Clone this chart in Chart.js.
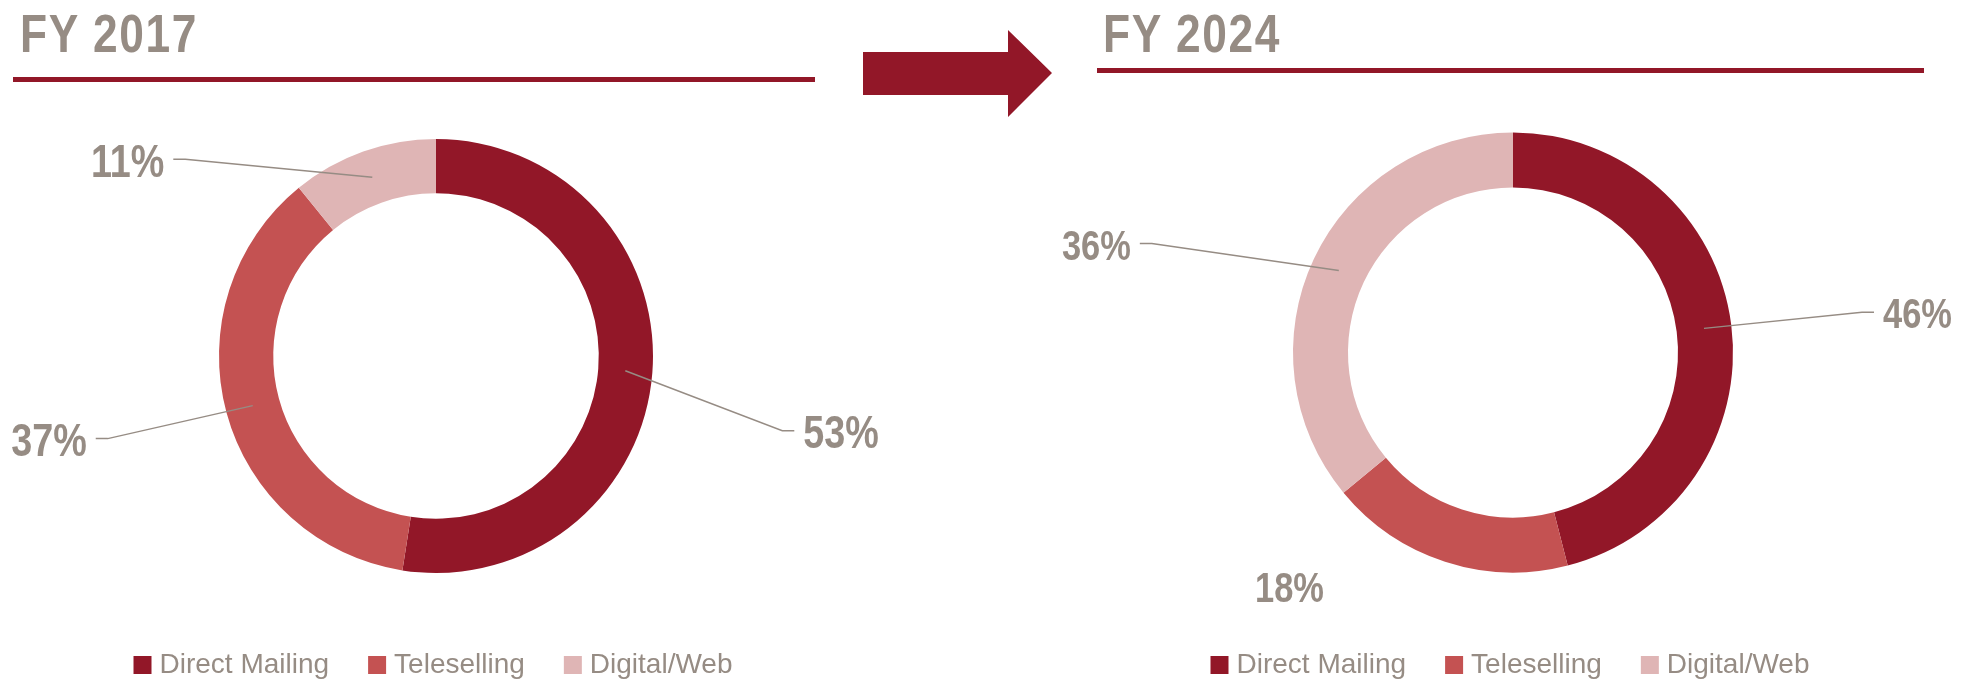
<!DOCTYPE html>
<html>
<head>
<meta charset="utf-8">
<script src="https://cdn.jsdelivr.net/npm/chart.js@4.4.1/dist/chart.umd.min.js"></script>
<style>
  html, body { margin: 0; padding: 0; background: #fff; width: 1968px; height: 686px; overflow: hidden; }
  body { position: relative; font-family: 'Liberation Sans', Arial, sans-serif; }
  /* no narrow face installed, so squeeze the bold sans horizontally */
  .title { position: absolute; font-weight: bold; font-size: 54px; line-height: 54px; color: #968C84; letter-spacing: 2px;
    white-space: nowrap; transform: scaleX(0.82); transform-origin: 0 0; }
  .rule { position: absolute; height: 5px; background: #921728; }
  .arrow { position: absolute; left: 863px; top: 30px; width: 189px; height: 87px; background: #921728;
    clip-path: polygon(0 22px, 145px 22px, 145px 0, 189px 43px, 145px 87px, 145px 65px, 0 65px); }
  canvas { position: absolute; top: 0; }
</style>
</head>
<body>
<div class="title" style="left:20px; top:6px;">FY 2017</div>
<div class="rule" style="left:13px; top:77px; width:802px;"></div>
<div class="arrow"></div>
<div class="title" style="left:1103px; top:6px;">FY 2024</div>
<div class="rule" style="left:1097px; top:68px; width:827px;"></div>

<canvas id="chart2017" width="900" height="700" style="left:-14px;"></canvas>
<canvas id="chart2024" width="906" height="700" style="left:1060px;"></canvas>

<script>
const categories = ['Direct Mailing', 'Teleselling', 'Digital/Web'];
const share2017 = [53, 37, 11];
const share2024 = [46, 18, 36];

const sliceColors = ['#921728', '#C45252', '#DFB5B5'];
const textGray = '#968C84';
const sans = "'Liberation Sans', Arial, sans-serif";

// where each % label sits, as offset from the middle of its slice (like the hand-placed excel labels)
const labelPos2017 = [[157, 60], [-145, 33], [-187, -18]];
const leaders2017 = [true, true, true];
const labelPos2024 = [[158, -16], [-164, 50], [-187, -27]];
const leaders2024 = [true, false, true];

// draws the % labels with their leader lines
const callouts = {
  id: 'callouts',
  afterDatasetsDraw(chart, args, opts) {
    const ctx = chart.ctx;
    const meta = chart.getDatasetMeta(0);
    const values = chart.data.datasets[0].data;
    const drop = opts.size * 0.358 + 1; // baseline below the leader tick
    ctx.save();
    ctx.font = 'bold ' + opts.size + 'px ' + sans;
    ctx.fillStyle = textGray;
    ctx.strokeStyle = textGray;
    ctx.lineWidth = 1.5;
    ctx.textBaseline = 'alphabetic';
    meta.data.forEach((arc, i) => {
      const p = arc.getProps(['x', 'y', 'startAngle', 'endAngle', 'innerRadius', 'outerRadius'], true);
      const mid = (p.startAngle + p.endAngle) / 2;
      const r = (p.innerRadius + p.outerRadius) / 2;
      const px = p.x + Math.cos(mid) * r;
      const py = p.y + Math.sin(mid) * r;
      const ex = px + opts.pos[i][0];
      const ey = py + opts.pos[i][1];
      const text = values[i] + '%';
      let tx = ex;
      if (opts.leaders[i]) {
        const dir = opts.pos[i][0] > 0 ? 1 : -1;
        ctx.beginPath();
        ctx.moveTo(px, py);
        ctx.lineTo(ex, ey);
        ctx.lineTo(ex + dir * 12, ey);
        ctx.stroke();
        ctx.textAlign = dir > 0 ? 'left' : 'right';
        tx = ex + dir * 21;
      } else {
        ctx.textAlign = 'center';
      }
      ctx.save();
      ctx.translate(tx, ey + drop);
      ctx.scale(0.82, 1);
      ctx.fillText(text, 0, 0);
      ctx.restore();
    });
    ctx.restore();
  }
};

function donut(id, values, radius, topPad, pos, leaders, labelSize) {
  return new Chart(document.getElementById(id), {
    type: 'doughnut',
    data: {
      labels: categories,
      datasets: [{
        data: values,
        backgroundColor: sliceColors,
        borderWidth: 0,
        radius: radius,
        cutout: '75%'
      }]
    },
    options: {
      responsive: false,
      animation: false,
      layout: { padding: { top: topPad, bottom: 11 } },
      plugins: {
        legend: {
          position: 'bottom',
          labels: {
            usePointStyle: true,
            pointStyle: 'rect',
            boxWidth: 6,
            boxHeight: 18,
            padding: 45,
            color: textGray,
            font: { family: sans, size: 28 }
          }
        },
        tooltip: { enabled: false },
        callouts: { pos: pos, leaders: leaders, size: labelSize }
      }
    },
    plugins: [callouts]
  });
}

donut('chart2017', share2017, 217, 106, labelPos2017, leaders2017, 46);
donut('chart2024', share2024, 220, 99, labelPos2024, leaders2024, 42);
</script>
</body>
</html>
